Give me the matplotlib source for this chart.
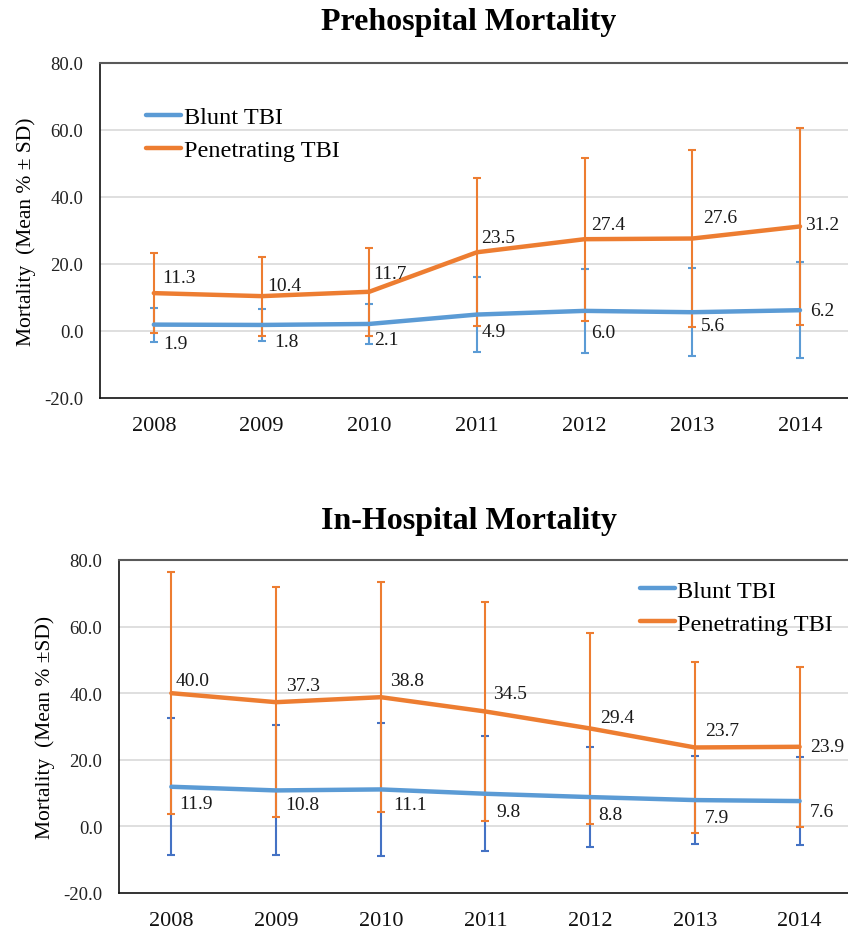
import matplotlib
matplotlib.use('Agg')
import matplotlib.pyplot as plt

# years on the x axis
years = ['2008', '2009', '2010', '2011', '2012', '2013', '2014']

# prehospital mortality (mean % and SD)
pre_blunt = [1.9, 1.8, 2.1, 4.9, 6.0, 5.6, 6.2]
pre_blunt_sd = [5.1, 4.9, 6.1, 11.1, 12.6, 13.2, 14.3]
pre_pen = [11.3, 10.4, 11.7, 23.5, 27.4, 27.6, 31.2]
pre_pen_sd = [11.9, 11.8, 13.1, 22.1, 24.3, 26.4, 29.3]

# in-hospital mortality (mean % and SD)
inh_blunt = [11.9, 10.8, 11.1, 9.8, 8.8, 7.9, 7.6]
inh_blunt_sd = [20.6, 19.5, 20.0, 17.3, 15.0, 13.3, 13.2]
inh_pen = [40.0, 37.3, 38.8, 34.5, 29.4, 23.7, 23.9]
inh_pen_sd = [36.4, 34.5, 34.5, 32.8, 28.6, 25.8, 24.1]

# label offsets in pixels (dx to left edge, dy up)
pre_blunt_off = [(9, -19), (13, -17), (5, -16), (5, -17), (7, -22), (9, -13), (10, 0)]
pre_pen_off = [(8, 16), (6, 11), (4, 18), (4, 15), (7, 15), (11, 21), (5, 2)]
inh_blunt_off = [(8, -17), (9, -14), (12, -15), (11, -18), (8, -17), (10, -17), (10, -10)]
inh_pen_off = [(4, 13), (10, 17), (9, 17), (8, 18), (10, 11), (10, 17), (10, 0)]

BLUE = '#5B9BD5'
DARK_BLUE = '#4472C4'
ORANGE = '#ED7D31'
FONT = 'Liberation Serif'

plt.rcParams['font.family'] = FONT


def draw_panel(ax, blunt, blunt_sd, pen, pen_sd, blunt_off, pen_off, blunt_err_color,
               ylabel, legend_anchor):
    x = list(range(len(years)))
    ax.errorbar(x, blunt, yerr=blunt_sd, fmt='none', ecolor=blunt_err_color,
                elinewidth=1.5, capsize=3, capthick=1.5, zorder=2)
    ax.errorbar(x, pen, yerr=pen_sd, fmt='none', ecolor=ORANGE,
                elinewidth=1.5, capsize=3, capthick=1.5, zorder=2)
    ax.plot(x, blunt, color=BLUE, lw=3.2, label='Blunt TBI', zorder=3,
            solid_capstyle='round')
    ax.plot(x, pen, color=ORANGE, lw=3.2, label='Penetrating TBI', zorder=3,
            solid_capstyle='round')

    for i in x:
        ax.annotate(f'{blunt[i]:.1f}', (i, blunt[i]), xytext=blunt_off[i],
                    textcoords='offset pixels', ha='left', va='center',
                    fontsize=14, color='#1a1a1a', zorder=4)
        ax.annotate(f'{pen[i]:.1f}', (i, pen[i]), xytext=pen_off[i],
                    textcoords='offset pixels', ha='left', va='center',
                    fontsize=14, color='#1a1a1a', zorder=4)

    ax.set_xlim(-0.5, 6.5)
    ax.set_ylim(-20, 80)
    ax.set_yticks([-20, 0, 20, 40, 60, 80])
    ax.set_yticklabels([f'{v:.1f}' for v in [-20, 0, 20, 40, 60, 80]])
    ax.set_xticks(x)
    ax.set_xticklabels(years)
    ax.tick_params(axis='y', length=0, pad=12, labelsize=13.5, labelcolor='#222222')
    ax.tick_params(axis='x', length=0, pad=13, labelsize=16, labelcolor='#111111')
    for v in [0, 20, 40, 60]:
        ax.axhline(v, color='#D9D9D9', lw=1.2, zorder=1)
    ax.spines['top'].set_color('#595959')
    ax.spines['top'].set_linewidth(1.5)
    ax.spines['left'].set_color('#111111')
    ax.spines['bottom'].set_color('#111111')
    ax.spines['left'].set_linewidth(1.2)
    ax.spines['bottom'].set_linewidth(1.2)
    ax.spines['right'].set_visible(False)
    ax.set_ylabel(ylabel, fontsize=15.5, labelpad=6)
    ax.legend(loc='upper left', bbox_to_anchor=legend_anchor, frameon=False,
              fontsize=17.5, handlelength=1.45, handletextpad=0.1,
              labelspacing=0.45, borderaxespad=0)


fig = plt.figure(figsize=(8.48, 9.37), dpi=100)

ax1 = fig.add_axes([0.1179, 0.5742, 0.889, 0.3575])
draw_panel(ax1, pre_blunt, pre_blunt_sd, pre_pen, pre_pen_sd, pre_blunt_off, pre_pen_off,
           BLUE, 'Mortality  (Mean % \u00b1 SD)', (0.048, 0.9))
fig.text(0.553, 0.976, 'Prehospital Mortality', ha='center', va='center',
         fontsize=23, fontweight='bold')

ax2 = fig.add_axes([0.1403, 0.0459, 0.8644, 0.3554])
draw_panel(ax2, inh_blunt, inh_blunt_sd, inh_pen, inh_pen_sd, inh_blunt_off, inh_pen_off,
           DARK_BLUE, 'Mortality  (Mean % \u00b1SD)', (0.697, 0.97))
fig.text(0.553, 0.443, 'In-Hospital Mortality', ha='center', va='center',
         fontsize=23, fontweight='bold')

fig.savefig('out.png', dpi=100)
